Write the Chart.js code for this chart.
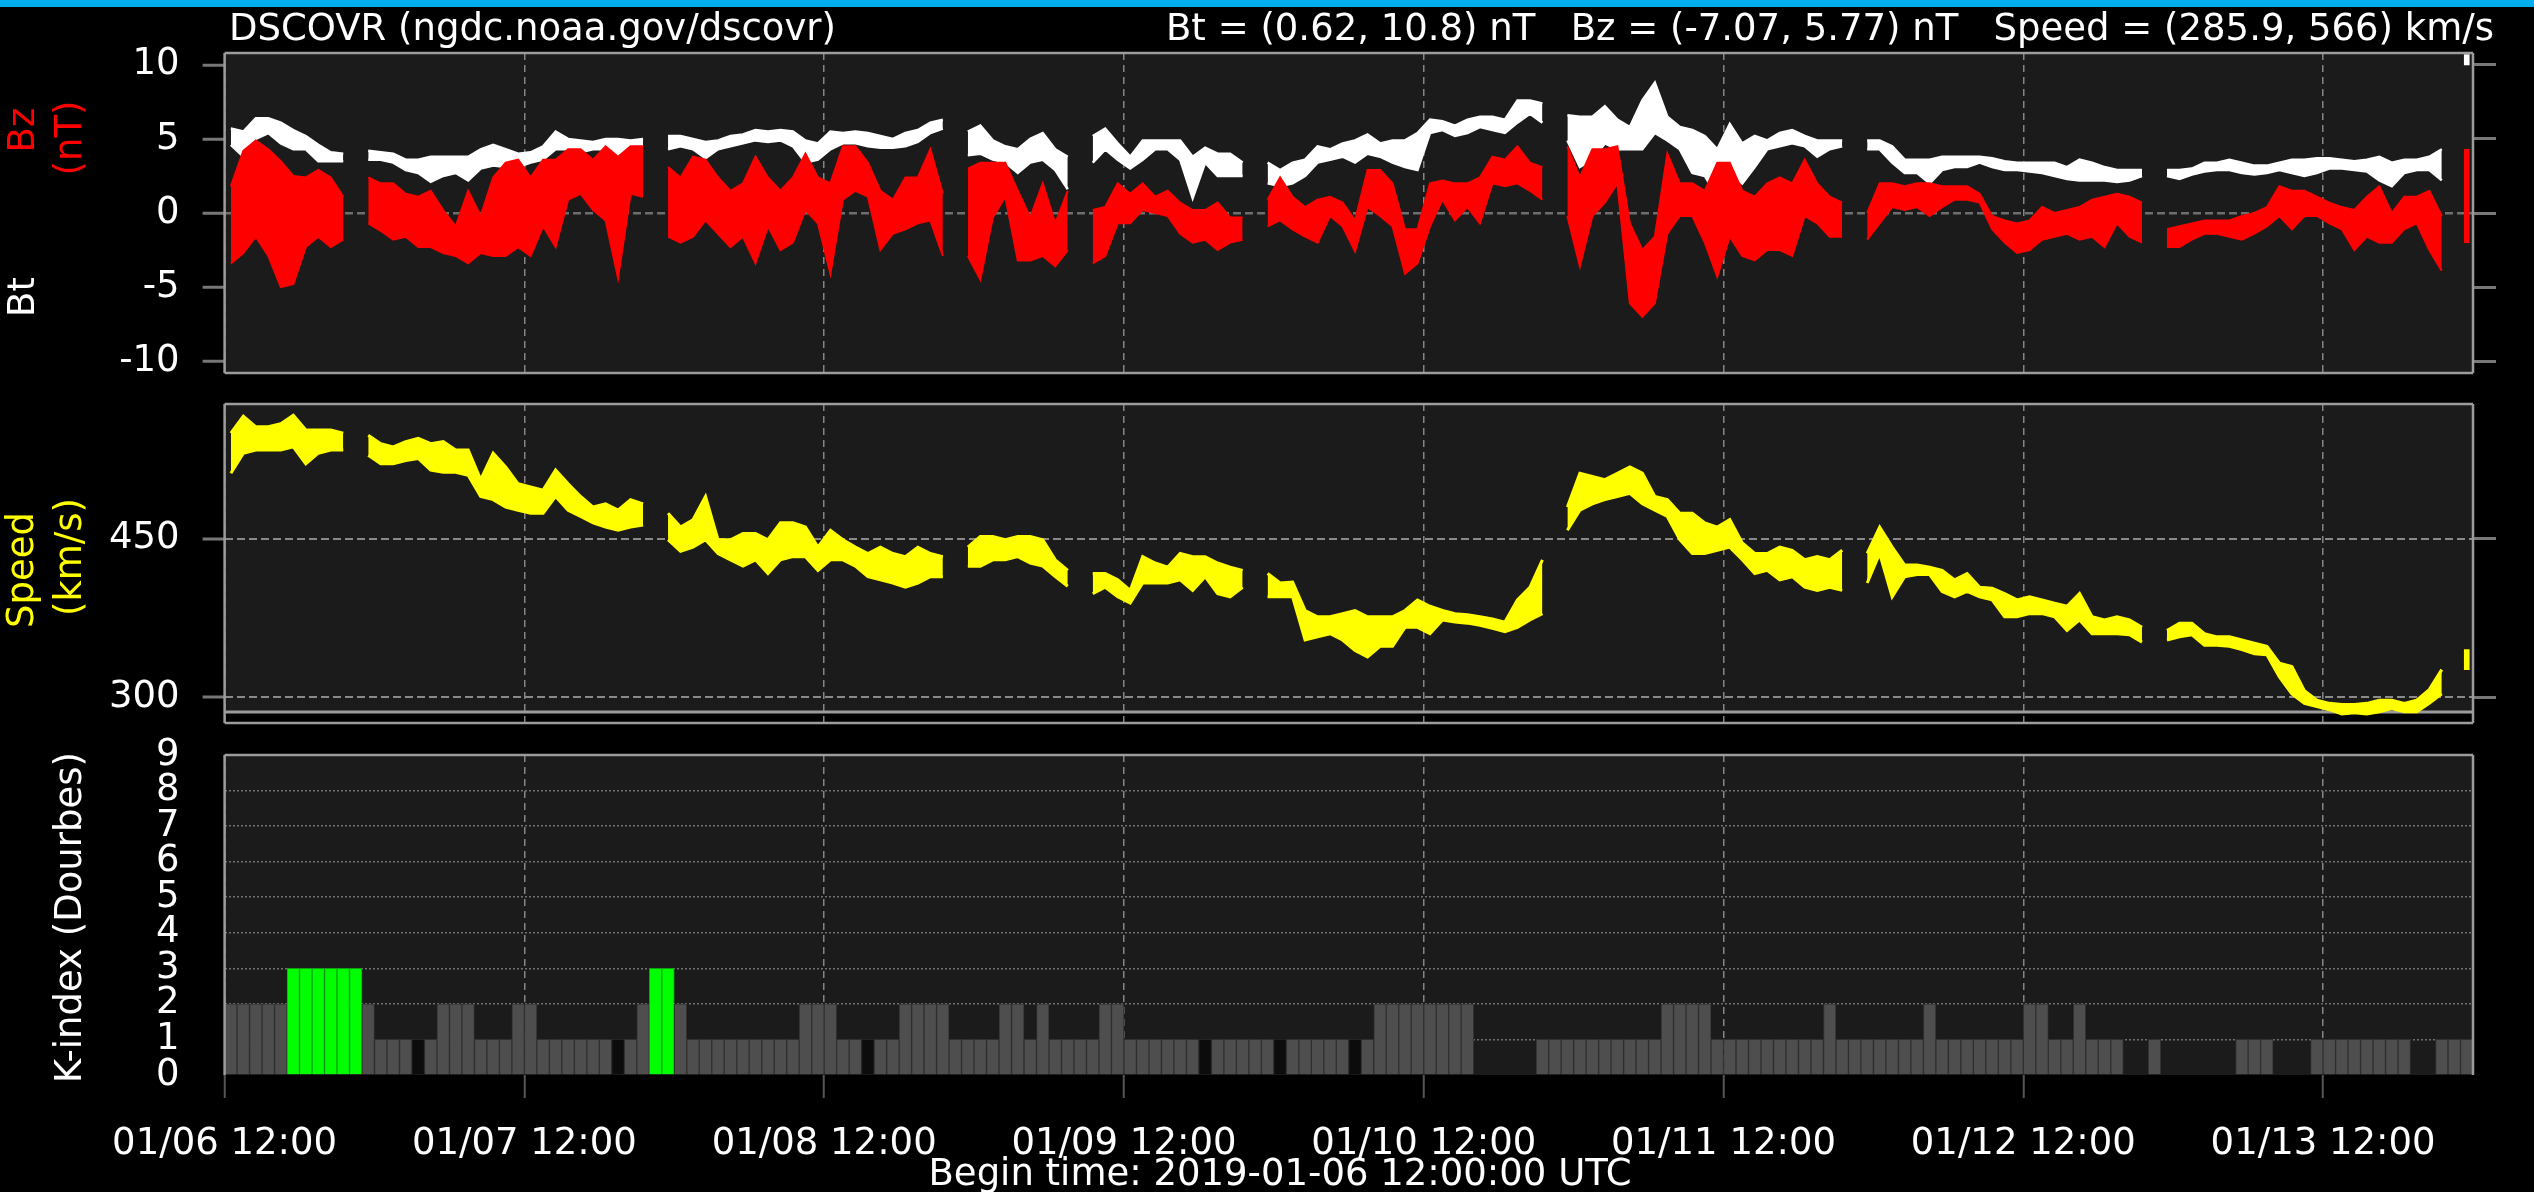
<!DOCTYPE html>
<html><head><meta charset="utf-8">
<script src="https://cdn.jsdelivr.net/npm/chart.js@4/dist/chart.umd.min.js"></script>
<style>
html,body{margin:0;padding:0;background:#000;width:2534px;height:1192px;overflow:hidden}
canvas{position:absolute;left:0}
</style></head><body>
<canvas id="c1" width="2534" height="390" style="top:0;width:2534px;height:390px"></canvas>
<canvas id="c2" width="2534" height="345" style="top:390px;width:2534px;height:345px"></canvas>
<canvas id="c3" width="2534" height="457" style="top:735px;width:2534px;height:457px"></canvas>
<script>
// ---------------- data (hourly bins from 2019-01-06 12:00 UTC) ----------------
const beginTime = '2019-01-06 12:00:00 UTC';
const titleText = 'DSCOVR (ngdc.noaa.gov/dscovr)';
const btRange = [0.62, 10.8];
const bzRange = [-7.07, 5.77];
const speedRange = [285.9, 566];
const tickHours = [0, 24, 48, 72, 96, 120, 144, 168];
const tickLabels = ['01/06 12:00','01/07 12:00','01/08 12:00','01/09 12:00','01/10 12:00','01/11 12:00','01/12 12:00','01/13 12:00'];
const bzTicks = [-10, -5, 0, 5, 10];
const speedTicks = [300, 450];
const kTicks = [0, 1, 2, 3, 4, 5, 6, 7, 8, 9];

const btLo = [4.6,3.8,5.0,5.4,4.7,4.3,4.3,3.5,3.5,3.5,null,3.6,3.6,3.4,2.9,2.7,2.1,2.5,2.7,2.2,
3.0,3.2,3.1,3.1,3.4,3.6,4.3,4.3,4.1,4.3,4.3,3.6,4.3,4.3,null,4.3,4.5,4.3,3.7,4.3,
4.5,4.7,4.9,4.8,4.9,4.5,3.4,3.6,4.3,4.7,4.7,4.5,4.4,4.4,4.5,4.8,5.4,5.7,null,3.9,
4.0,3.6,3.4,2.7,3.4,3.6,2.9,1.6,null,3.4,4.3,3.6,3.0,3.6,4.3,4.3,3.6,1.0,3.4,2.5,
2.5,2.5,null,2.0,1.8,2.0,2.5,3.4,3.6,3.8,3.4,4.0,3.8,3.4,3.1,2.9,5.4,5.6,5.2,5.4,
5.8,5.6,5.4,6.1,6.7,6.1,null,4.9,3.1,3.6,4.7,4.3,4.3,4.3,5.4,4.9,4.3,2.7,2.5,1.1,
2.7,2.0,3.1,4.3,4.5,4.7,4.5,3.8,4.3,4.5,null,4.3,4.3,3.4,2.7,2.7,2.0,2.9,3.1,3.1,
3.4,3.1,2.9,2.9,2.8,2.7,2.5,2.3,2.2,2.2,2.2,2.1,2.2,2.5,null,2.5,2.3,2.6,2.8,2.9,
2.9,2.7,2.6,2.7,2.9,2.7,2.5,2.7,3.0,3.0,2.9,2.8,2.2,1.8,2.7,2.9,2.9,2.2,null,10.0];
const btHi = [5.7,5.5,6.4,6.4,6.1,5.6,5.2,4.6,4.1,4.0,null,4.2,4.1,4.0,3.6,3.6,3.8,3.8,3.8,3.8,
4.3,4.6,4.3,4.0,4.1,4.5,5.5,5.0,4.9,4.8,5.0,5.0,4.9,5.0,null,5.2,5.2,5.0,4.8,4.9,
5.2,5.3,5.6,5.5,5.6,5.5,4.9,4.7,5.5,5.4,5.5,5.4,5.2,5.0,5.4,5.6,6.1,6.3,null,5.5,
5.9,4.9,4.5,4.3,5.0,5.4,4.3,3.8,null,5.2,5.7,4.7,3.8,4.9,4.9,4.9,4.9,3.8,4.4,4.0,
4.0,3.4,null,3.4,2.9,3.4,3.6,4.5,4.3,4.7,4.9,5.3,4.7,4.9,4.9,5.4,6.3,6.2,5.9,6.3,
6.5,6.5,6.3,7.6,7.6,7.4,null,6.6,6.5,6.5,7.2,6.3,5.8,7.6,8.8,6.5,5.8,5.6,5.2,4.3,
6.0,4.7,5.2,4.9,5.4,5.6,5.2,4.9,4.9,4.9,null,4.9,4.9,4.5,3.6,3.6,3.6,3.8,3.8,3.8,
3.8,3.7,3.5,3.4,3.4,3.4,3.4,3.1,3.6,3.4,3.1,2.9,2.9,2.9,null,2.9,2.9,3.0,3.4,3.4,
3.6,3.4,3.2,3.2,3.4,3.6,3.6,3.7,3.7,3.6,3.5,3.6,3.8,3.4,3.6,3.6,3.8,4.3,null,10.7];
const bzLo = [-3.4,-2.7,-1.6,-2.9,-5.0,-4.8,-2.3,-1.6,-2.3,-1.8,null,-0.7,-1.2,-1.8,-1.6,-2.3,-2.3,-2.7,-2.9,-3.4,
-2.7,-2.9,-2.9,-2.3,-2.9,-0.9,-2.3,0.9,1.3,0.2,-0.5,-4.4,1.3,1.1,null,-1.6,-2.0,-1.6,-0.5,-1.4,
-2.3,-1.6,-3.4,-0.9,-2.5,-2.0,0.2,-0.7,-4.1,0.9,1.5,1.1,-2.5,-1.4,-1.1,-0.7,-0.5,-2.9,null,-2.9,
-4.5,-0.3,1.1,-3.2,-3.2,-2.9,-3.6,-2.5,null,-3.4,-2.9,-0.7,-0.7,0.2,0.0,-0.2,-1.4,-2.0,-1.8,-2.5,
-2.0,-1.8,null,-0.9,-0.5,-1.1,-1.6,-2.0,-0.2,-0.9,-2.6,0.4,-0.2,-0.9,-4.1,-3.4,-0.9,0.9,-0.5,0.4,
-0.7,2.0,1.8,2.0,1.5,0.9,null,-0.2,-3.6,-0.2,0.7,2.0,-6.1,-7.0,-6.1,-1.4,-0.2,-0.2,-2.0,-4.3,
-1.6,-2.9,-3.2,-2.5,-2.5,-2.9,-0.2,-0.7,-1.6,-1.6,null,-1.8,-0.7,0.4,0.2,0.4,-0.2,0.4,0.9,0.9,
0.7,-1.1,-2.0,-2.7,-2.5,-1.8,-1.6,-1.4,-1.8,-1.6,-2.3,-0.7,-1.6,-2.0,null,-2.3,-2.3,-1.8,-1.4,-1.4,
-1.6,-1.8,-1.4,-0.9,-0.2,-1.1,-0.2,-0.2,-0.7,-1.1,-2.5,-1.6,-2.0,-2.0,-1.1,-0.7,-2.5,-3.9,null,-2.0];
const bzHi = [1.8,4.2,4.9,4.3,3.5,2.5,2.4,2.9,2.4,1.1,null,2.4,2.0,2.0,1.3,1.1,1.5,0.2,-0.9,1.5,
-0.2,2.4,3.4,3.6,2.4,3.6,3.6,4.3,4.3,3.6,4.5,3.8,4.5,4.5,null,3.1,2.4,3.8,3.6,2.4,
1.5,2.0,3.8,2.4,1.5,2.4,4.0,2.4,2.0,4.5,4.5,3.4,1.5,0.9,2.4,2.4,4.3,1.3,null,3.0,
3.4,3.4,3.4,1.5,-0.3,2.0,-0.7,1.5,null,0.2,0.4,2.0,1.3,2.0,1.1,1.5,0.7,0.2,0.2,0.7,
-0.3,-0.3,null,0.9,2.4,1.1,0.4,0.9,1.1,0.7,-0.5,2.9,2.9,2.0,-1.1,-1.1,2.0,2.2,2.0,2.0,
2.4,3.8,3.6,4.5,3.4,3.1,null,4.5,2.4,4.3,4.3,4.5,-0.7,-2.5,-1.6,4.0,2.0,2.0,1.5,3.4,
3.4,1.5,1.1,2.0,2.4,2.0,3.6,2.0,1.1,0.7,null,0.0,2.0,2.0,1.8,2.0,2.0,1.8,1.8,1.8,
1.3,-0.2,-0.5,-0.7,-0.5,0.4,0.0,0.2,0.4,0.9,1.1,1.3,1.1,0.7,null,-1.1,-0.9,-0.7,-0.5,-0.5,
-0.5,-0.2,0.0,0.4,1.8,1.5,1.5,1.1,0.7,0.4,0.2,1.1,1.8,0.0,1.1,1.1,1.5,-0.2,null,4.3];
const speedLo = [512,531,534,534,534,537,521,531,534,534,null,529,521,521,524,526,515,513,513,510,
490,487,480,477,474,474,490,477,471,465,461,458,461,463,null,449,438,442,449,436,
430,424,430,417,430,433,433,420,430,430,424,414,411,408,404,408,414,414,null,424,
424,430,430,433,427,424,414,405,null,398,404,395,389,408,408,408,411,401,414,398,
395,404,null,395,395,395,354,357,360,354,344,338,348,348,366,366,360,373,371,370,
368,365,362,366,373,379,null,458,477,483,487,490,493,483,477,471,449,436,436,439,
442,430,417,420,411,414,404,401,404,401,null,408,436,395,414,416,416,400,395,400,
395,392,376,376,379,379,376,363,373,360,360,360,359,352,null,354,357,359,349,349,
348,345,341,340,319,303,294,291,288,284,285,284,286,289,286,286,294,303,null,326];
const speedHi = [550,566,556,556,559,567,553,553,553,550,null,548,540,537,542,545,540,542,534,534,
506,531,518,502,499,496,515,502,490,480,483,477,487,483,null,474,461,468,490,449,
449,455,455,449,465,465,461,442,458,449,442,436,442,436,433,442,436,433,null,442,
452,452,449,452,452,449,430,420,null,417,417,411,401,433,427,423,436,433,433,427,
423,420,null,417,408,409,382,376,376,379,382,376,376,376,382,392,386,382,379,378,
376,374,371,392,404,430,null,480,512,509,506,512,518,512,490,487,474,474,465,461,
468,446,436,436,442,439,430,433,430,439,null,436,461,442,425,425,423,420,411,417,
404,403,398,392,395,392,389,386,398,376,373,376,373,366,null,363,370,370,360,357,
357,354,351,348,332,329,306,297,294,293,293,294,297,297,294,297,307,326,null,345];
const kIndex = [2,2,2,2,2,3,3,3,3,3,3,2,1,1,1,1,1,2,2,2,
1,1,1,2,2,1,1,1,1,1,1,1,1,2,3,3,2,1,1,1,
1,1,1,1,1,1,2,2,2,1,1,1,1,1,2,2,2,2,1,1,
1,1,2,2,1,2,1,1,1,1,2,2,1,1,1,1,1,1,1,1,
1,1,1,1,1,1,1,1,1,1,1,1,2,2,2,2,2,2,2,2,
0,0,0,0,0,1,1,1,1,1,1,1,1,1,1,2,2,2,2,1,
1,1,1,1,1,1,1,1,2,1,1,1,1,1,1,1,2,1,1,1,
1,1,1,1,2,2,1,1,2,1,1,1,0,0,1,0,0,0,0,0,
0,1,1,1,0,0,0,1,1,1,1,1,1,1,1,0,0,1,1,1];
const kProvisional = [15, 31, 51, 78, 84, 90];   // hours drawn as dark (black) bars
const binHours = kIndex.map((_, i) => i);

// ---------------- helpers ----------------
const FONT = 'DejaVu Sans';
const W = 2534, LEFT = 224.6, RIGHT = 2473;
const PANEL_BG = '#1b1b1b', FRAME = '#9c9c9c';
Chart.defaults.font.family = FONT;
Chart.defaults.animation = false;

function pts(arr) { return binHours.map(i => ({x: i + 0.5, y: arr[i]})); }
function isIso(arr, i) {
  if (arr[i] === null) return false;
  const prev = i > 0 ? arr[i - 1] : null, next = i < arr.length - 1 ? arr[i + 1] : null;
  return prev === null && next === null;
}
function isoBars(lo, hi) {
  return binHours.filter(i => isIso(lo, i)).map(i => ({x: i + 0.5, y: [lo[i], hi[i]]}));
}
function band(lo, hi, color, width) {
  const common = {type: 'line', borderColor: color, borderWidth: width, pointRadius: 0, spanGaps: false, tension: 0, yAxisID: 'y'};
  return [
    Object.assign({}, common, {data: pts(lo), fill: false}),
    Object.assign({}, common, {data: pts(hi), fill: '-1', backgroundColor: color})
  ];
}
function noPad(ax) { ax.paddingTop = 0; ax.paddingBottom = 0; ax.paddingLeft = 0; ax.paddingRight = 0; }
function xScale(labels) {
  return {
    type: 'linear', min: 0, max: 180, offset: false,
    afterBuildTicks: ax => { ax.ticks = tickHours.map(v => ({value: v})); },
    afterFit: ax => { ax.height = labels ? 117 : 0; noPad(ax); },
    grid: {color: '#858585', lineWidth: 1.5, offset: false, drawTicks: labels, tickLength: 23, tickColor: '#555', tickWidth: 2},
    border: {display: false, dash: [7, 5]},
    ticks: {display: labels, autoSkip: false, maxRotation: 0, color: '#fff', font: {family: FONT, size: 37}, padding: 24,
      callback: (v, i) => tickLabels[i]}
  };
}
function yLeft(min, max, ticksArr, gridColor, dash, drawTicks, padding, gridWidth) {
  return {
    position: 'left', min, max,
    afterBuildTicks: ax => { ax.ticks = ticksArr.map(v => ({value: v})); },
    afterFit: ax => { ax.width = LEFT; noPad(ax); },
    grid: {color: gridColor, lineWidth: gridWidth, drawTicks, tickLength: 22, tickColor: '#777', tickWidth: 3},
    border: {display: false, dash},
    ticks: {color: '#fff', font: {family: FONT, size: 37}, padding, autoSkip: false}
  };
}
function yRight(min, max, ticksArr) {
  return {
    position: 'right', min, max,
    afterBuildTicks: ax => { ax.ticks = ticksArr.map(v => ({value: v})); },
    afterFit: ax => { ax.width = 23; noPad(ax); },
    grid: {drawOnChartArea: false, drawTicks: true, tickLength: 23, tickColor: '#777', tickWidth: 3},
    border: {display: false},
    ticks: {display: false, autoSkip: false}
  };
}
function vText(ctx, text, x, y, color) {
  ctx.save();
  ctx.translate(x, y);
  ctx.rotate(-Math.PI / 2);
  ctx.font = '37px "' + FONT + '"';
  ctx.fillStyle = color;
  ctx.textAlign = 'center';
  ctx.textBaseline = 'middle';
  ctx.fillText(text, 0, 0);
  ctx.restore();
}
function frame(ctx, a, sides) {
  ctx.save();
  ctx.strokeStyle = FRAME;
  ctx.lineWidth = 2.5;
  ctx.beginPath();
  if (sides.top) { ctx.moveTo(a.left, a.top); ctx.lineTo(a.right, a.top); }
  if (sides.bottom) { ctx.moveTo(a.left, a.bottom); ctx.lineTo(a.right, a.bottom); }
  if (sides.left) { ctx.moveTo(a.left, a.top); ctx.lineTo(a.left, a.bottom); }
  if (sides.right) { ctx.moveTo(a.right, a.top); ctx.lineTo(a.right, a.bottom); }
  ctx.stroke();
  ctx.restore();
}
const isoStyle = {type: 'bar', barThickness: 5, grouped: false, borderWidth: 0, yAxisID: 'y'};

// ---------------- chart 1 : Bt / Bz ----------------
const bzMax = btRange[1];
new Chart(document.getElementById('c1'), {
  type: 'line',
  data: {
    datasets: [
      Object.assign({}, isoStyle, {data: isoBars(bzLo, bzHi), backgroundColor: '#ff0000'}),
      ...band(bzLo, bzHi, '#ff0000', 2),
      Object.assign({}, isoStyle, {data: isoBars(btLo, btHi), backgroundColor: '#ffffff'}),
      ...band(btLo, btHi, '#ffffff', 2.5)
    ]
  },
  options: {
    responsive: false, devicePixelRatio: 1,
    layout: {padding: {left: 0, right: W - RIGHT - 23, top: 53, bottom: 390 - 373}},
    plugins: {legend: {display: false}, tooltip: {enabled: false}},
    scales: {
      x: xScale(false),
      y: yLeft(-bzMax, bzMax, bzTicks, c => c.tick && c.tick.value === 0 ? '#6e6e6e' : 'rgba(0,0,0,0)', [8, 4], true, 23, 2.5),
      y2: yRight(-bzMax, bzMax, bzTicks)
    }
  },
  plugins: [{
    id: 'deco1',
    beforeDraw(chart) {
      const {ctx, chartArea: a} = chart;
      ctx.save(); ctx.fillStyle = PANEL_BG; ctx.fillRect(a.left, a.top, a.right - a.left, a.bottom - a.top); ctx.restore();
    },
    afterDraw(chart) {
      const {ctx, chartArea: a} = chart;
      frame(ctx, a, {top: 1, bottom: 1, left: 1, right: 1});
      ctx.save();
      ctx.fillStyle = '#00aeef'; ctx.fillRect(0, 0, W, 7);
      ctx.font = '37px "' + FONT + '"'; ctx.fillStyle = '#fff'; ctx.textBaseline = 'alphabetic';
      ctx.textAlign = 'left'; ctx.fillText(titleText, 229, 40);
      ctx.textAlign = 'right';
      ctx.fillText('Bt = (' + btRange[0] + ', ' + btRange[1] + ') nT   Bz = (' + bzRange[0] + ', ' + bzRange[1] + ') nT   Speed = (' + speedRange[0] + ', ' + speedRange[1] + ') km/s', 2494, 40);
      ctx.restore();
      vText(ctx, 'Bz', 24, 130, '#ff0000');
      vText(ctx, '(nT)', 71, 138, '#ff0000');
      vText(ctx, 'Bt', 24, 297, '#ffffff');
    }
  }]
});

// ---------------- chart 2 : Speed ----------------
const spAxisMin = 275.4, spAxisMax = 577.6;
new Chart(document.getElementById('c2'), {
  type: 'line',
  data: {
    datasets: [
      Object.assign({}, isoStyle, {data: isoBars(speedLo, speedHi), backgroundColor: '#ffff00'}),
      ...band(speedLo, speedHi, '#ffff00', 3)
    ]
  },
  options: {
    responsive: false, devicePixelRatio: 1,
    layout: {padding: {left: 0, right: W - RIGHT - 23, top: 14, bottom: 12}},
    plugins: {legend: {display: false}, tooltip: {enabled: false}},
    scales: {
      x: xScale(false),
      y: yLeft(spAxisMin, spAxisMax, speedTicks, '#8a8a8a', [8, 4], true, 23, 2),
      y2: yRight(spAxisMin, spAxisMax, speedTicks)
    }
  },
  plugins: [{
    id: 'deco2',
    beforeDraw(chart) {
      const {ctx, chartArea: a} = chart;
      const yMin = chart.scales.y.getPixelForValue(speedRange[0]);
      ctx.save(); ctx.fillStyle = PANEL_BG; ctx.fillRect(a.left, a.top, a.right - a.left, yMin - a.top); ctx.restore();
    },
    beforeDatasetsDraw(chart) {
      const {ctx, chartArea: a} = chart;
      const yMin = chart.scales.y.getPixelForValue(speedRange[0]);
      ctx.save(); ctx.strokeStyle = FRAME; ctx.lineWidth = 3;
      ctx.beginPath(); ctx.moveTo(a.left, yMin); ctx.lineTo(a.right, yMin); ctx.stroke(); ctx.restore();
    },
    afterDraw(chart) {
      const {ctx, chartArea: a} = chart;
      frame(ctx, a, {top: 1, bottom: 1, left: 1, right: 1});
      vText(ctx, 'Speed', 23, 180, '#ffff00');
      vText(ctx, '(km/s)', 71, 167, '#ffff00');
    }
  }]
});

// ---------------- chart 3 : K-index ----------------
new Chart(document.getElementById('c3'), {
  type: 'bar',
  data: {
    datasets: [{
      label: 'K-index', data: binHours.map(i => ({x: i + 0.5, y: kIndex[i]})),
      backgroundColor: c => kProvisional.includes(c.dataIndex) ? '#0c0c0c' : (kIndex[c.dataIndex] >= 3 ? '#00ff00' : '#4e4e4e'),
      borderColor: c => kProvisional.includes(c.dataIndex) ? '#222' : (kIndex[c.dataIndex] >= 3 ? '#10a010' : '#303030'),
      borderWidth: 1, barPercentage: 1, categoryPercentage: 1
    }]
  },
  options: {
    responsive: false, devicePixelRatio: 1,
    layout: {padding: {left: 0, right: W - RIGHT, top: 20, bottom: 0}},
    plugins: {legend: {display: false}, tooltip: {enabled: false}},
    scales: {
      x: xScale(true),
      y: yLeft(0, 9, kTicks, c => c.tick && c.tick.value >= 1 && c.tick.value <= 8 ? '#707070' : 'rgba(0,0,0,0)', [2, 2], false, 45, 1.5)
    }
  },
  plugins: [{
    id: 'deco3',
    beforeDraw(chart) {
      const {ctx, chartArea: a} = chart;
      ctx.save(); ctx.fillStyle = PANEL_BG; ctx.fillRect(a.left, a.top, a.right - a.left, a.bottom - a.top); ctx.restore();
    },
    afterDraw(chart) {
      const {ctx, chartArea: a} = chart;
      frame(ctx, a, {top: 1, left: 1, right: 1});
      vText(ctx, 'K-index (Dourbes)', 71, 182.5, '#ffffff');
      ctx.save();
      ctx.font = '37px "' + FONT + '"'; ctx.fillStyle = '#fff'; ctx.textAlign = 'center'; ctx.textBaseline = 'alphabetic';
      ctx.fillText('Begin time: ' + beginTime, 1280, 450);
      ctx.restore();
    }
  }]
});
</script>
</body></html>
